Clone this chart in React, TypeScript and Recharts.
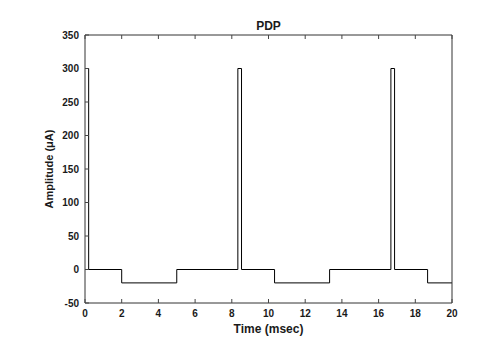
import { LineChart, Line, XAxis, YAxis } from 'recharts'

// pulse train, time in msec, amplitude in µA
const times = [0, 0.2, 0.2, 2, 2, 5, 5, 8.33, 8.33, 8.53, 8.53, 10.33, 10.33, 13.33, 13.33, 16.67, 16.67, 16.87, 16.87, 18.67, 18.67, 20]
const amps = [300, 300, 0, 0, -20, -20, 0, 0, 300, 300, 0, 0, -20, -20, 0, 0, 300, 300, 0, 0, -20, -20]

const xTicks = [0, 2, 4, 6, 8, 10, 12, 14, 16, 18, 20]
const yTicks = [-50, 0, 50, 100, 150, 200, 250, 300, 350]

const data = times.map((t, i) => ({ t, v: amps[i] }))

const FONT = '"Liberation Sans", Arial, sans-serif'
const TXT = '#1a1a1a'
const axisStroke = '#333'
const tickStroke = '#444'
const TL = 4 // inward tick length
const XM = 7 // gap below x axis
const YM = 6 // gap left of y axis

// MATLAB-style inward ticks, drawn next to the labels
function BottomTick({ x, y, payload }: any) {
  const ay = y - XM
  return (
    <g>
      <line x1={x} x2={x} y1={ay} y2={ay - TL} stroke={tickStroke} />
      <text x={x} y={y} dy="0.71em" textAnchor="middle" fontSize={10} fontWeight={700} fill={TXT} fontFamily={FONT}>
        {payload.value}
      </text>
    </g>
  )
}

function TopTick({ x, y }: any) {
  const ay = y + XM
  return <line x1={x} x2={x} y1={ay} y2={ay + TL} stroke={tickStroke} />
}

function LeftTick({ x, y, payload }: any) {
  const ax = x + YM
  return (
    <g>
      <line x1={ax} x2={ax + TL} y1={y} y2={y} stroke={tickStroke} />
      <text x={x} y={y} dy="0.35em" textAnchor="end" fontSize={10} fontWeight={700} fill={TXT} fontFamily={FONT}>
        {payload.value}
      </text>
    </g>
  )
}

function RightTick({ x, y }: any) {
  const ax = x - YM
  return <line x1={ax} x2={ax - TL} y1={y} y2={y} stroke={tickStroke} />
}

export default function App() {
  return (
    <div style={{ width: 489, height: 344, background: '#fff' }}>
      <style>{'body{margin:0}'}</style>
      <LineChart width={489} height={344} data={data} margin={{ top: 34, right: 36, left: 35, bottom: 21 }}>
        <XAxis
          dataKey="t"
          type="number"
          domain={[0, 20]}
          ticks={xTicks}
          tick={BottomTick}
          tickLine={false}
          tickSize={0}
          tickMargin={XM}
          height={20}
          stroke={axisStroke}
          label={{ value: 'Time (msec)', position: 'bottom', offset: 1, style: { fontSize: 12, fontWeight: 700, fill: TXT, fontFamily: FONT } }}
        />
        <XAxis
          xAxisId="top"
          orientation="top"
          dataKey="t"
          type="number"
          domain={[0, 20]}
          ticks={xTicks}
          tick={TopTick}
          tickLine={false}
          tickSize={0}
          tickMargin={XM}
          height={1}
          stroke={axisStroke}
          label={{ value: 'PDP', position: 'top', offset: 4, style: { fontSize: 12, fontWeight: 700, fill: TXT, fontFamily: FONT } }}
        />
        <YAxis
          type="number"
          domain={[-50, 350]}
          ticks={yTicks}
          tick={LeftTick}
          tickLine={false}
          tickSize={0}
          tickMargin={YM}
          width={50}
          stroke={axisStroke}
          label={{ value: 'Amplitude (μA)', angle: -90, position: 'insideLeft', offset: 14, style: { textAnchor: 'middle', fontSize: 11, fontWeight: 700, fill: TXT, fontFamily: FONT } }}
        />
        <YAxis
          yAxisId="right"
          orientation="right"
          type="number"
          domain={[-50, 350]}
          ticks={yTicks}
          tick={RightTick}
          tickLine={false}
          tickSize={0}
          tickMargin={YM}
          width={1}
          stroke={axisStroke}
        />
        <Line
          dataKey="v"
          type="linear"
          stroke="#000"
          strokeWidth={1}
          dot={false}
          isAnimationActive={false}
        />
      </LineChart>
    </div>
  )
}
